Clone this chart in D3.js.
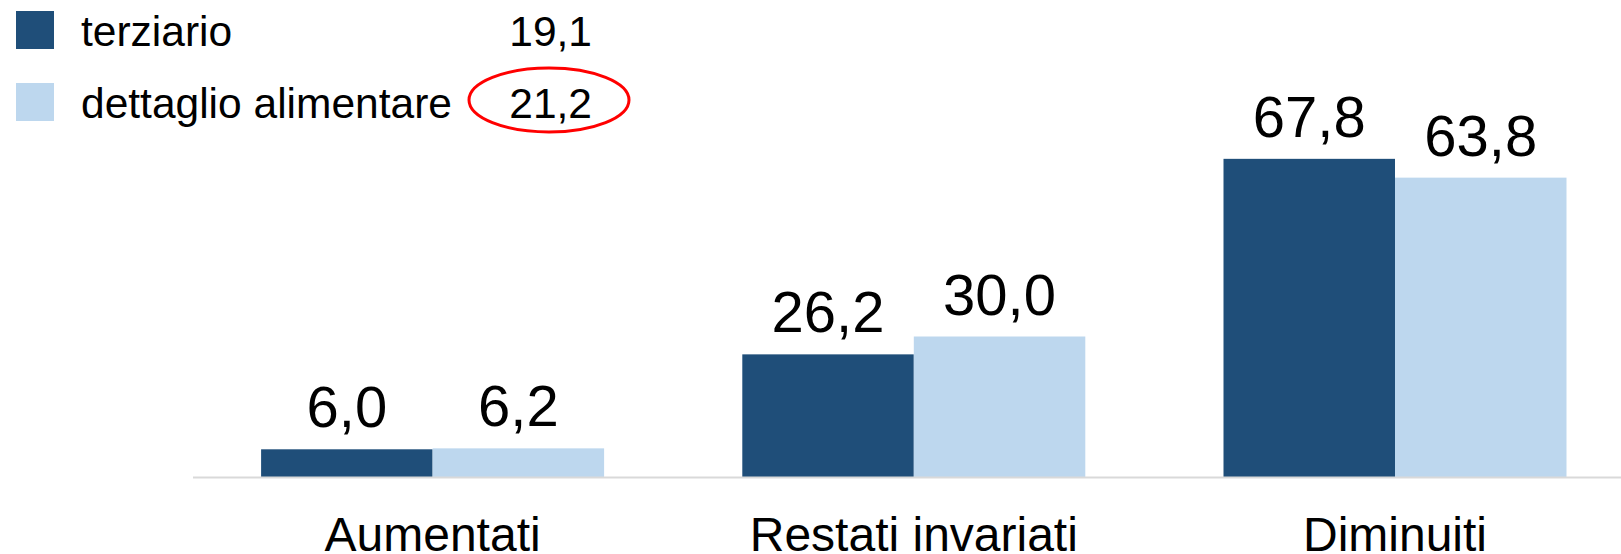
<!DOCTYPE html>
<html>
<head>
<meta charset="utf-8">
<script src="https://cdn.jsdelivr.net/npm/d3@7"></script>
<style>
  html, body { margin: 0; padding: 0; background: #ffffff; }
  svg { display: block; }
  text { font-family: "Liberation Sans", Arial, sans-serif; fill: #000; }
</style>
</head>
<body>
<svg id="chart" width="1621" height="554"></svg>
<script>
const categories = ["Aumentati", "Restati invariati", "Diminuiti"];
const seriesNames = ["terziario", "dettaglio alimentare"];
const terziario = [6.0, 26.2, 67.8];
const dettaglioAlimentare = [6.2, 30.0, 63.8];
const legendValues = ["19,1", "21,2"];
const seriesColors = ["#1F4E79", "#BDD7EE"];

const seriesValues = [terziario, dettaglioAlimentare];
const fmt = v => d3.format(".1f")(v).replace(".", ",");

const svg = d3.select("#chart");
const W = 1621, H = 554;
const baseY = 477.5;

const x0 = d3.scaleBand().domain(categories).range([192, 1635.6]).padding(0);
const x1 = d3.scaleBand().domain(seriesNames).range([69.1, 412.1]).padding(0);
const y = d3.scaleLinear().domain([0, 70]).range([baseY, baseY - 70 * 4.7]);

// bars
const groups = svg.append("g").selectAll("g")
  .data(categories)
  .join("g")
  .attr("transform", d => `translate(${x0(d)},0)`);

groups.selectAll("rect")
  .data((c, i) => seriesNames.map((s, j) => ({ s, j, v: seriesValues[j][i] })))
  .join("rect")
  .attr("x", d => x1(d.s))
  .attr("width", x1.bandwidth())
  .attr("y", d => y(d.v))
  .attr("height", d => y(0) - y(d.v))
  .attr("fill", d => seriesColors[d.j]);

groups.selectAll("text.val")
  .data((c, i) => seriesNames.map((s, j) => ({ s, j, v: seriesValues[j][i] })))
  .join("text")
  .attr("class", "val")
  .attr("x", d => x1(d.s) + x1.bandwidth() / 2)
  .attr("y", d => y(d.v) - 22)
  .attr("text-anchor", "middle")
  .style("font-size", "58px")
  .text(d => fmt(d.v));

// baseline axis
const xAxis = d3.axisBottom(x0).tickSize(0).tickPadding(0);
const axisG = svg.append("g").attr("transform", `translate(0,${baseY})`).call(xAxis);
axisG.select(".domain").attr("stroke", "#D9D9D9").attr("stroke-width", 2)
  .attr("d", `M${193},0H${W}`);
axisG.selectAll(".tick text")
  .attr("y", 73.5).attr("dy", null)
  .style("font-size", "48px")
  .style("font-family", "'Liberation Sans', Arial, sans-serif")
  .attr("fill", "#000");

// legend
const legend = svg.append("g");
const legY = [11, 83];
seriesNames.forEach((name, i) => {
  legend.append("rect")
    .attr("x", 16).attr("y", legY[i])
    .attr("width", 38).attr("height", 38)
    .attr("fill", seriesColors[i]);
  legend.append("text")
    .attr("x", 81).attr("y", legY[i] + 35)
    .style("font-size", "42.5px")
    .text(name);
  legend.append("text")
    .attr("x", 592).attr("y", legY[i] + 35)
    .attr("text-anchor", "end")
    .style("font-size", "42.5px")
    .text(legendValues[i]);
});

// red highlight ellipse
legend.append("ellipse")
  .attr("cx", 549).attr("cy", 100)
  .attr("rx", 80).attr("ry", 32)
  .attr("fill", "none")
  .attr("stroke", "#FF0000")
  .attr("stroke-width", 3);
</script>
</body>
</html>
